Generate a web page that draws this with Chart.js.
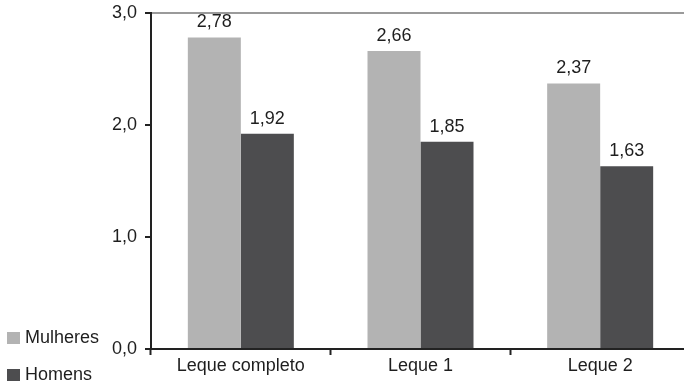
<!DOCTYPE html>
<html>
<head>
<meta charset="utf-8">
<script src="https://cdn.jsdelivr.net/npm/chart.js@4/dist/chart.umd.min.js"></script>
<style>
  html, body { margin: 0; padding: 0; background: #fff; overflow: hidden; }
  #wrap { width: 684px; height: 386px; position: relative; overflow: hidden; }
  /* the plot runs slightly past the right edge, and the top tick label's
     headroom is trimmed, so the canvas is a bit larger than the frame */
  #c { position: absolute; left: 0; top: -6px; }
</style>
</head>
<body>
<div id="wrap"><canvas id="c" width="690" height="392"></canvas></div>
<script>
const categories = ['Leque completo', 'Leque 1', 'Leque 2'];
const mulheres = [2.78, 2.66, 2.37];
const homens = [1.92, 1.85, 1.63];
const seriesNames = ['Mulheres', 'Homens'];
const yTicks = [0, 1, 2, 3];

const FONT = '"Liberation Sans", Arial, sans-serif';
const SHIFT = 6; // canvas top offset inside the frame
const fmt = v => v.toFixed(2).replace('.', ',');

// value labels above each bar
const valueLabels = {
  id: 'valueLabels',
  afterDatasetsDraw(chart) {
    const ctx = chart.ctx;
    ctx.save();
    ctx.font = '18px ' + FONT;
    ctx.fillStyle = '#1e1e1e';
    ctx.textAlign = 'center';
    ctx.textBaseline = 'alphabetic';
    chart.data.datasets.forEach((ds, i) => {
      chart.getDatasetMeta(i).data.forEach((bar, j) => {
        ctx.fillText(fmt(ds.data[j]), bar.x, bar.y - 10);
      });
    });
    ctx.restore();
  }
};

// legend stacked in the lower-left corner
const cornerLegend = {
  id: 'cornerLegend',
  afterDraw(chart) {
    const ctx = chart.ctx;
    ctx.save();
    ctx.font = '18px ' + FONT;
    ctx.textBaseline = 'middle';
    const rows = [338 + SHIFT, 375 + SHIFT];
    chart.data.datasets.forEach((ds, i) => {
      const y = rows[i];
      ctx.fillStyle = ds.backgroundColor;
      ctx.fillRect(7, y - 6, 13, 12);
      ctx.fillStyle = '#1e1e1e';
      ctx.fillText(ds.label, 25, y);
    });
    ctx.restore();
  }
};

new Chart(document.getElementById('c'), {
  type: 'bar',
  data: {
    labels: categories,
    datasets: [
      { label: seriesNames[0], data: mulheres, backgroundColor: '#b3b3b3' },
      { label: seriesNames[1], data: homens, backgroundColor: '#4d4d4f' }
    ]
  },
  options: {
    responsive: false,
    animation: false,
    devicePixelRatio: 1,
    layout: { padding: 0 },
    plugins: { legend: { display: false }, tooltip: { enabled: false } },
    datasets: { bar: { categoryPercentage: 0.59, barPercentage: 1.0 } },
    scales: {
      x: {
        grid: {
          offset: true,
          drawOnChartArea: false,
          drawTicks: true,
          tickLength: 6,
          tickColor: '#222',
          tickWidth: 2
        },
        border: { color: '#222', width: 2 },
        ticks: { color: '#1e1e1e', font: { family: FONT, size: 18 }, padding: 0 },
        afterFit(s) { s.height = 37; }
      },
      y: {
        min: 0,
        max: 3,
        afterBuildTicks(s) { s.ticks = yTicks.map(v => ({ value: v })); },
        grid: {
          color: c => (c.tick && c.tick.value === 3 ? '#9a9a9a' : 'rgba(0,0,0,0)'),
          lineWidth: 2,
          drawTicks: true,
          tickLength: 6,
          tickColor: '#222',
          tickWidth: 2
        },
        border: { color: '#222', width: 2 },
        ticks: {
          color: '#1e1e1e',
          font: { family: FONT, size: 18 },
          padding: 8,
          callback: v => v.toFixed(1).replace('.', ',')
        },
        afterFit(s) { s.width = 151; }
      }
    }
  },
  plugins: [valueLabels, cornerLegend]
});
</script>
</body>
</html>
